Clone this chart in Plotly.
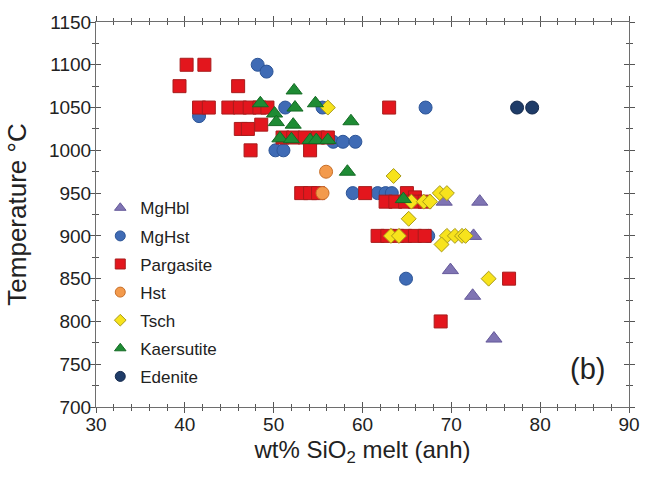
import plotly.graph_objects as go

# ---------------- data ----------------
mghbl_x = [69.2, 73.2, 72.5, 69.9, 72.4, 74.8]
mghbl_y = [940, 940, 900, 860, 830, 780]

mghst_x = [48.2, 49.2, 41.6, 51.3, 55.5, 67.1, 56.7, 57.8, 59.2, 50.2, 51.1,
           58.9, 61.7, 62.6, 63.3, 67.4, 64.9]
mghst_y = [1100, 1092, 1040, 1050, 1050, 1050, 1010, 1010, 1010, 1000, 1000,
           950, 950, 950, 950, 900, 850]

parg_x = [40.2, 42.2, 39.4, 46.0,
          41.6, 42.7, 44.9, 46.2, 47.3, 48.4, 49.3, 63.0,
          46.3, 47.1, 48.6, 47.4,
          51.0, 52.2, 53.5, 55.0, 56.1, 54.1,
          53.1, 54.1, 55.0, 60.3, 65.0, 65.9,
          62.6, 63.7, 64.8, 65.9, 67.0,
          61.7, 62.8, 63.9, 64.8, 65.9, 67.0,
          76.5, 68.8]
parg_y = [1100, 1100, 1075, 1075,
          1050, 1050, 1050, 1050, 1050, 1050, 1050, 1050,
          1025, 1025, 1030, 1000,
          1015, 1015, 1015, 1015, 1015, 1000,
          950, 950, 950, 950, 950, 945,
          940, 940, 940, 940, 940,
          900, 900, 900, 900, 900, 900,
          850, 800]

hst_x = [55.9, 55.5]
hst_y = [975, 950]

tsch_x = [56.1, 63.5, 65.5, 66.9, 67.6, 68.7, 69.5, 65.2, 63.2, 64.1,
          69.5, 70.4, 71.2, 71.6, 68.9, 74.2]
tsch_y = [1050, 970, 940, 940, 940, 950, 950, 920, 900, 900,
          900, 900, 900, 900, 890, 850]

kaer_x = [52.3, 48.5, 54.7, 52.4, 50.1, 50.3, 52.2, 50.7, 52.0, 54.1, 54.8,
          56.1, 58.7, 58.3, 64.6]
kaer_y = [1070, 1055, 1055, 1050, 1043, 1033, 1030, 1014, 1013, 1012, 1012,
          1012, 1034, 975, 943]

eden_x = [77.4, 79.1]
eden_y = [1050, 1050]

x_ticks = [30, 40, 50, 60, 70, 80, 90]
y_ticks = [700, 750, 800, 850, 900, 950, 1000, 1050, 1100, 1150]

# ---------------- styles ----------------
series = [
    ("MgHbl", mghbl_x, mghbl_y, "triangle-up", "#7f74b3", "#65599a", 14),
    ("MgHst", mghst_x, mghst_y, "circle", "#3f6bb5", "#2d5597", 13),
    ("Pargasite", parg_x, parg_y, "square", "#e3161d", "#a81c1c", 13),
    ("Hst", hst_x, hst_y, "circle", "#f39a4c", "#c8702a", 13),
    ("Tsch", tsch_x, tsch_y, "diamond", "#f7e31c", "#a89a1a", 11.5),
    ("Kaersutite", kaer_x, kaer_y, "triangle-up", "#1e8b34", "#146b24", 14),
    ("Edenite", eden_x, eden_y, "circle", "#1f3c68", "#152a4d", 13),
]

fig = go.Figure()
for name, xs, ys, sym, fill, edge, sz in series:
    fig.add_trace(go.Scatter(
        x=xs, y=ys, mode="markers", name=name, showlegend=False,
        marker=dict(symbol=sym, size=sz, color=fill,
                    line=dict(color=edge, width=1)),
    ))
for i, (name, xs, ys, sym, fill, edge, sz) in enumerate(series):
    fig.add_trace(go.Scatter(
        x=[None], y=[None], mode="markers", name=name, legendgroup=f"g{i}",
        marker=dict(symbol=sym, size=10 if sym != "diamond" else 9, color=fill,
                    line=dict(color=edge, width=1)),
    ))
# helper trace for the outside-tick overlay axes
fig.add_trace(go.Scatter(x=[None], y=[None], xaxis="x2", yaxis="y2",
                         showlegend=False, hoverinfo="skip"))

axis_line = "#6e6e6e"
tick_col = "#555555"
common_font = dict(family="Liberation Sans, Arial, sans-serif", size=19, color="#222")

fig.update_layout(
    width=652, height=480,
    margin=dict(l=96, r=18, t=20, b=73),
    paper_bgcolor="white", plot_bgcolor="white",
    font=dict(family="Liberation Sans, Arial, sans-serif", color="#222"),
    xaxis=dict(
        range=[30, 90], tickvals=x_ticks, ticks="inside", ticklen=5,
        tickcolor=tick_col, showline=True, linecolor=axis_line, linewidth=1,
        mirror="ticks", showgrid=False, zeroline=False, tickfont=common_font,
        minor=dict(ticks="inside", dtick=2, ticklen=3, tickcolor=tick_col),
        title=dict(text="wt% SiO<sub>2</sub> melt (anh)",
                   font=dict(size=24, color="#222"), standoff=7),
    ),
    yaxis=dict(
        range=[700, 1150], tickvals=y_ticks, ticks="inside", ticklen=5,
        tickcolor=tick_col, showline=True, linecolor=axis_line, linewidth=1,
        mirror="ticks", showgrid=False, zeroline=False, tickfont=common_font,
        minor=dict(ticks="inside", dtick=25, ticklen=3, tickcolor=tick_col),
        title=dict(text="Temperature °C", font=dict(size=26, color="#222"),
                   standoff=14),
    ),
    xaxis2=dict(
        range=[30, 90], tickvals=x_ticks, ticks="outside", ticklen=5,
        tickcolor=tick_col, overlaying="x", anchor="y2", mirror="ticks",
        showline=False, showticklabels=False, showgrid=False, zeroline=False,
        minor=dict(ticks="outside", dtick=2, ticklen=3, tickcolor=tick_col),
    ),
    yaxis2=dict(
        range=[700, 1150], tickvals=y_ticks, ticks="outside", ticklen=5,
        tickcolor=tick_col, overlaying="y", anchor="x2", mirror="ticks",
        showline=False, showticklabels=False, showgrid=False, zeroline=False,
        minor=dict(ticks="outside", dtick=25, ticklen=3, tickcolor=tick_col),
    ),
    legend=dict(
        x=0.008, y=0.563, xanchor="left", yanchor="top",
        bgcolor="rgba(0,0,0,0)", font=dict(size=17, color="#222"),
        tracegroupgap=3, itemwidth=30,
    ),
    annotations=[dict(
        text="(b)", x=0.922, y=0.10, xref="paper", yref="paper",
        xanchor="center", yanchor="middle",
        showarrow=False, font=dict(size=29, color="#222"),
    )],
)

fig.write_html("out.html")
